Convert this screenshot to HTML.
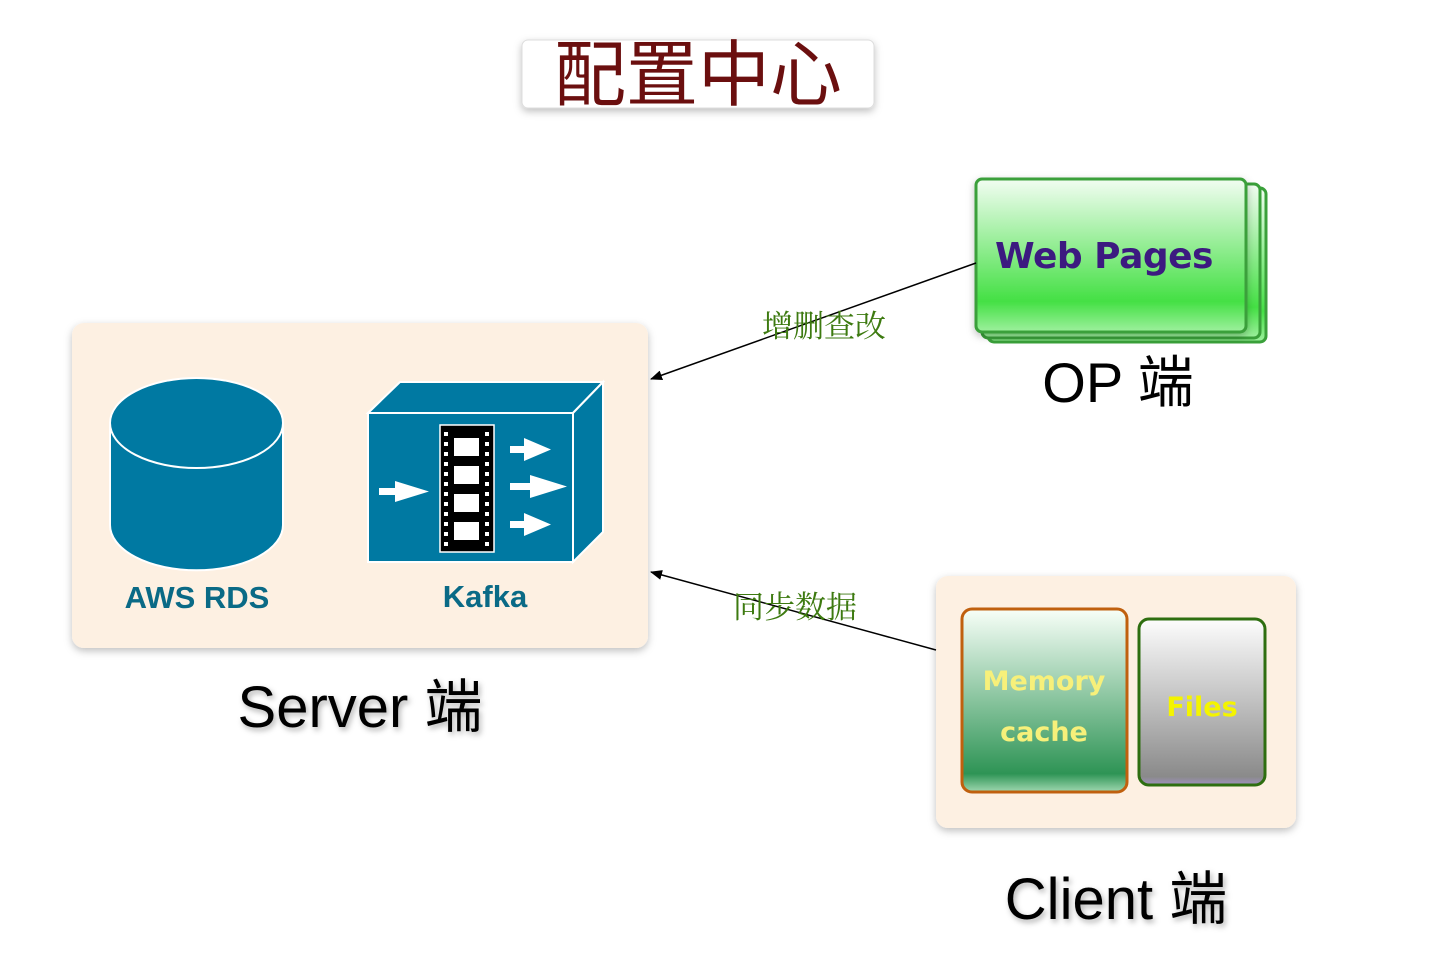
<!DOCTYPE html>
<html><head><meta charset="utf-8"><style>
body{margin:0;background:#fff}
svg{display:block}
</style></head><body>
<svg width="1440" height="972" viewBox="0 0 1440 972" xmlns="http://www.w3.org/2000/svg">
<defs>
<filter id="sh" x="-10%" y="-10%" width="130%" height="130%"><feDropShadow dx="0" dy="3" stdDeviation="4" flood-color="#000" flood-opacity="0.25"/></filter>
<filter id="tsh"><feDropShadow dx="2" dy="3" stdDeviation="3" flood-color="#000" flood-opacity="0.3"/></filter>
<linearGradient id="gw" x1="0" y1="0" x2="0" y2="1"><stop offset="0" stop-color="#f2fdf2"/><stop offset="0.8" stop-color="#44e044"/><stop offset="1" stop-color="#9ef09e"/></linearGradient>
<linearGradient id="gm" x1="0" y1="0" x2="0" y2="1"><stop offset="0" stop-color="#f8fff8"/><stop offset="0.9" stop-color="#2e9455"/><stop offset="1" stop-color="#a0d8b0"/></linearGradient>
<linearGradient id="gf" x1="0" y1="0" x2="0" y2="1"><stop offset="0" stop-color="#fdfdfd"/><stop offset="0.95" stop-color="#8a8a8a"/><stop offset="1" stop-color="#a090c0"/></linearGradient>
<marker id="ar" markerWidth="12" markerHeight="10" refX="11" refY="5" orient="auto" markerUnits="userSpaceOnUse"><path d="M0,0 L12,5 L0,10 z" fill="#000"/></marker>
</defs>
<rect x="522" y="40" width="352" height="68" rx="6" fill="#fff" stroke="#ddd" filter="url(#sh)"/>
<text x="698" y="100" text-anchor="middle" font-family="'Liberation Sans','Noto Sans CJK SC',sans-serif" font-size="72" fill="#6b0f0f">配置中心</text>
<rect x="72" y="323" width="576" height="325" rx="12" fill="#fdf0e2" filter="url(#sh)"/>
<path d="M110,423 L110,525 A86,45 0 0 0 283,525 L283,423 z" fill="#0079a2" stroke="#fff" stroke-width="2"/>
<ellipse cx="196.5" cy="423" rx="86.5" ry="45" fill="#0079a2" stroke="#fff" stroke-width="2"/>
<text x="197" y="608" text-anchor="middle" font-family="'Liberation Sans',sans-serif" font-weight="bold" font-size="31" fill="#0a6a86">AWS RDS</text>
<polygon points="368,413 400,382 603,382 573,413" fill="#0079a2" stroke="#fff" stroke-width="2"/>
<polygon points="573,413 603,382 603,532 573,562" fill="#0079a2" stroke="#fff" stroke-width="2"/>
<rect x="368" y="413" width="205" height="149" fill="#0079a2" stroke="#fff" stroke-width="2"/>
<rect x="440" y="425" width="54" height="127" fill="#000" stroke="#fff" stroke-width="1.5"/>
<g fill="#fff">
<rect x="454" y="438" width="25" height="18"/><rect x="454" y="466" width="25" height="18"/><rect x="454" y="494" width="25" height="18"/><rect x="454" y="522" width="25" height="18"/>
<g id="holes"><rect x="444" y="432" width="4" height="4"/><rect x="444" y="442" width="4" height="4"/><rect x="444" y="452" width="4" height="4"/><rect x="444" y="462" width="4" height="4"/><rect x="444" y="472" width="4" height="4"/><rect x="444" y="482" width="4" height="4"/><rect x="444" y="492" width="4" height="4"/><rect x="444" y="502" width="4" height="4"/><rect x="444" y="512" width="4" height="4"/><rect x="444" y="522" width="4" height="4"/><rect x="444" y="532" width="4" height="4"/><rect x="444" y="542" width="4" height="4"/></g>
<use href="#holes" x="41"/>
<rect x="379" y="488" width="16" height="7"/><polygon points="395,481 429,491.5 395,502"/>
<rect x="510" y="446" width="14" height="7"/><polygon points="524,438 551,449.5 524,461"/>
<rect x="510" y="483" width="20" height="7"/><polygon points="530,475 567,486.5 530,498"/>
<rect x="510" y="521" width="14" height="7"/><polygon points="524,513 551,524.5 524,536"/>
</g>
<text x="485" y="607" text-anchor="middle" font-family="'Liberation Sans',sans-serif" font-weight="bold" font-size="31" fill="#0a6a86">Kafka</text>
<text x="360" y="727" text-anchor="middle" font-family="'Liberation Sans','Noto Sans CJK SC',sans-serif" font-size="58" fill="#000" filter="url(#tsh)">Server 端</text>
<rect x="988" y="188" width="278" height="154" rx="6" fill="url(#gw)" stroke="#3aa03a" stroke-width="3"/>
<rect x="982" y="184" width="278" height="154" rx="6" fill="url(#gw)" stroke="#3aa03a" stroke-width="3"/>
<rect x="976" y="179" width="270" height="153" rx="6" fill="url(#gw)" stroke="#3aa03a" stroke-width="3" filter="url(#sh)"/>
<text x="1104" y="268" text-anchor="middle" font-family="'DejaVu Sans',sans-serif" font-weight="bold" font-size="36" letter-spacing="-0.5" fill="#3c1a80">Web Pages</text>
<text x="1118" y="402" text-anchor="middle" font-family="'Liberation Sans','Noto Sans CJK SC',sans-serif" font-size="56" fill="#000">OP 端</text>
<rect x="936" y="576" width="360" height="252" rx="12" fill="#fdf0e2" filter="url(#sh)"/>
<rect x="962" y="609" width="165" height="183" rx="10" fill="url(#gm)" stroke="#c0600e" stroke-width="3"/>
<rect x="1139" y="619" width="126" height="166" rx="10" fill="url(#gf)" stroke="#2e6e10" stroke-width="3"/>
<g font-family="'DejaVu Sans',sans-serif" font-weight="bold" text-anchor="middle">
<text x="1044" y="690" font-size="27" fill="#f7f07a">Memory</text>
<text x="1044" y="741" font-size="27" fill="#f7f07a">cache</text>
<text x="1202" y="716" font-size="27" fill="#f4f400">Files</text>
</g>
<text x="1116" y="919" text-anchor="middle" font-family="'Liberation Sans','Noto Sans CJK SC',sans-serif" font-size="58" fill="#000" filter="url(#tsh)">Client 端</text>
<line x1="976" y1="263" x2="651" y2="379" stroke="#000" stroke-width="1.5" marker-end="url(#ar)"/>
<line x1="936" y1="650" x2="651" y2="572" stroke="#000" stroke-width="1.5" marker-end="url(#ar)"/>
<g font-family="'Noto Serif CJK SC','WenQuanYi Zen Hei',serif" font-size="31" fill="#3d7a10">
<text x="762" y="337">增删查改</text>
<text x="733" y="618">同步数据</text>
</g>
</svg>
</body></html>
